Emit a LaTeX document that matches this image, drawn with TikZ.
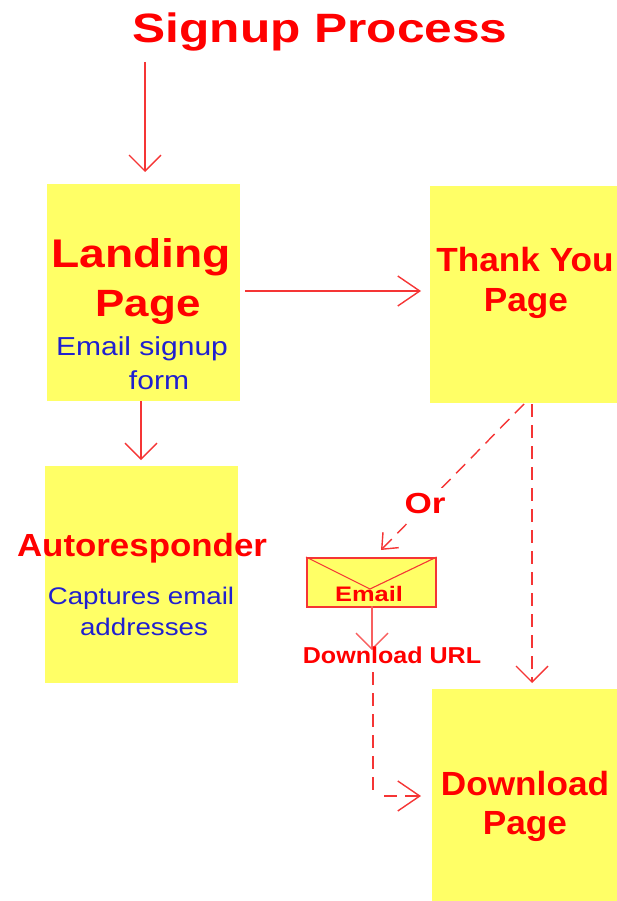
\documentclass[tikz,border=0pt]{standalone}
\usepackage{fontspec}
\setmainfont{Liberation Sans}
\newfontfamily\widea[FakeStretch=1.21]{Liberation Sans}
\newfontfamily\wideb[FakeStretch=1.155]{Liberation Sans}
\newfontfamily\widec[FakeStretch=1.09]{Liberation Sans}
\newfontfamily\wided[FakeStretch=1.05]{Liberation Sans}
\usetikzlibrary{arrows.meta}
\definecolor{boxy}{HTML}{FFFF66}
\definecolor{redt}{HTML}{FF0000}
\definecolor{bluet}{HTML}{2020D0}
\definecolor{lin}{HTML}{F53535}
\definecolor{linp}{HTML}{F86060}
\tikzset{
 x=1pt,y=-1pt,
 yellowbox/.style={fill=boxy,draw=none,inner sep=0pt,anchor=north west},
 ttl/.style={text=redt,inner sep=0pt,align=center,anchor=center},
 sub/.style={text=bluet,inner sep=0pt,anchor=center},
 conn/.style={draw=lin,line width=1.4pt,-{Straight Barb[length=16pt,width=32pt,line width=1.4pt]}},
 dconn/.style={conn,dash pattern=on 13pt off 8pt},
 longhead/.style={-{Straight Barb[length=22pt,width=30pt,line width=1.4pt]}},
 smallhead/.style={-{Straight Barb[length=13pt,width=22pt,line width=1.4pt]}},
}
\newcommand{\fs}[1]{\fontsize{#1}{#1}\selectfont}
\begin{document}
\begin{tikzpicture}
\useasboundingbox (0,0) rectangle (617,901);
\node[yellowbox,minimum width=193pt,minimum height=217pt] (landing) at (47,184) {};
\node[yellowbox,minimum width=188pt,minimum height=217pt] (thanks) at (430,186) {};
\node[yellowbox,minimum width=193pt,minimum height=217pt] (auto) at (45,466) {};
\node[yellowbox,minimum width=186pt,minimum height=213pt] (download) at (432,689) {};
\coordinate (s0) at (145,62);
\coordinate (s1) at (145,172);
\draw[conn] (s0) -- (s1);
\coordinate (a0) at (245,291); \coordinate (a9) at (421,291);
\draw[conn,longhead] (a0) -- (a9);
\coordinate (b0) at (141,401); \coordinate (b9) at (141,460);
\draw[conn] (b0) -- (b9);
\coordinate (c0) at (524,404); \coordinate (c9) at (381,550);
\draw[dconn,smallhead] (c0) -- (c9);
\coordinate (e0) at (532,404); \coordinate (e9) at (532,683);
\draw[dconn] (e0) -- (e9);
\node[fill=boxy,draw=lin,line width=1.7pt,minimum width=129pt,minimum height=49pt,inner sep=0pt,anchor=north west] (env) at (306,557) {};
\coordinate (apex) at (370,589);
\draw[lin,line width=1.1pt] (env.north west) -- (apex) -- (env.north east);
\coordinate (f0) at (372,606); \coordinate (f9) at (372,650);
\draw[conn,draw=linp,line width=1.9pt] (f0) -- (f9);
\coordinate (g0) at (373,672); \coordinate (g1) at (373,795);
\draw[draw=lin,line width=1.4pt,dash pattern=on 13pt off 8pt] (g0) -- (g1);
\coordinate (g2) at (384,796); \coordinate (g9) at (421,796);
\draw[dconn,longhead] (g2) -- (g9);
\node[ttl,font=\widea\bfseries\fs{41}] (title) at (320,32) {Signup Process};
\node[ttl,font=\wideb\bfseries\fs{40}] (l1) at (141,257) {Landing};
\node[ttl,font=\wideb\bfseries\fs{38}] (l2) at (148,307) {Page};
\node[sub,font=\wideb\fs{26}] (l3) at (142,349) {Email signup};
\node[sub,font=\wideb\fs{26}] (l4) at (159,380) {form};
\node[ttl,font=\wided\bfseries\fs{33.5}] (t1) at (525,260) {Thank You};
\node[ttl,font=\wided\bfseries\fs{33.5}] (t2) at (526,304) {Page};
\node[ttl,font=\widec\bfseries\fs{32}] (a1) at (142,548) {Autoresponder};
\node[sub,font=\wideb\fs{24}] (a2) at (141,598) {Captures email};
\node[sub,font=\wideb\fs{24}] (a3) at (144,627) {addresses};
\node[ttl,font=\wided\bfseries\fs{33.5}] (d1) at (525,784) {Download};
\node[ttl,font=\wided\bfseries\fs{33.5}] (d2) at (525,827) {Page};
\node[ttl,font=\widea\bfseries\fs{29},fill=white,minimum width=42pt,minimum height=32pt] (or) at (425,504) {Or};
\node[ttl,font=\widea\bfseries\fs{21}] (em) at (369,594) {Email};
\node[ttl,font=\widec\bfseries\fs{23}] (url) at (392,655) {Download URL};
\end{tikzpicture}
\end{document}
